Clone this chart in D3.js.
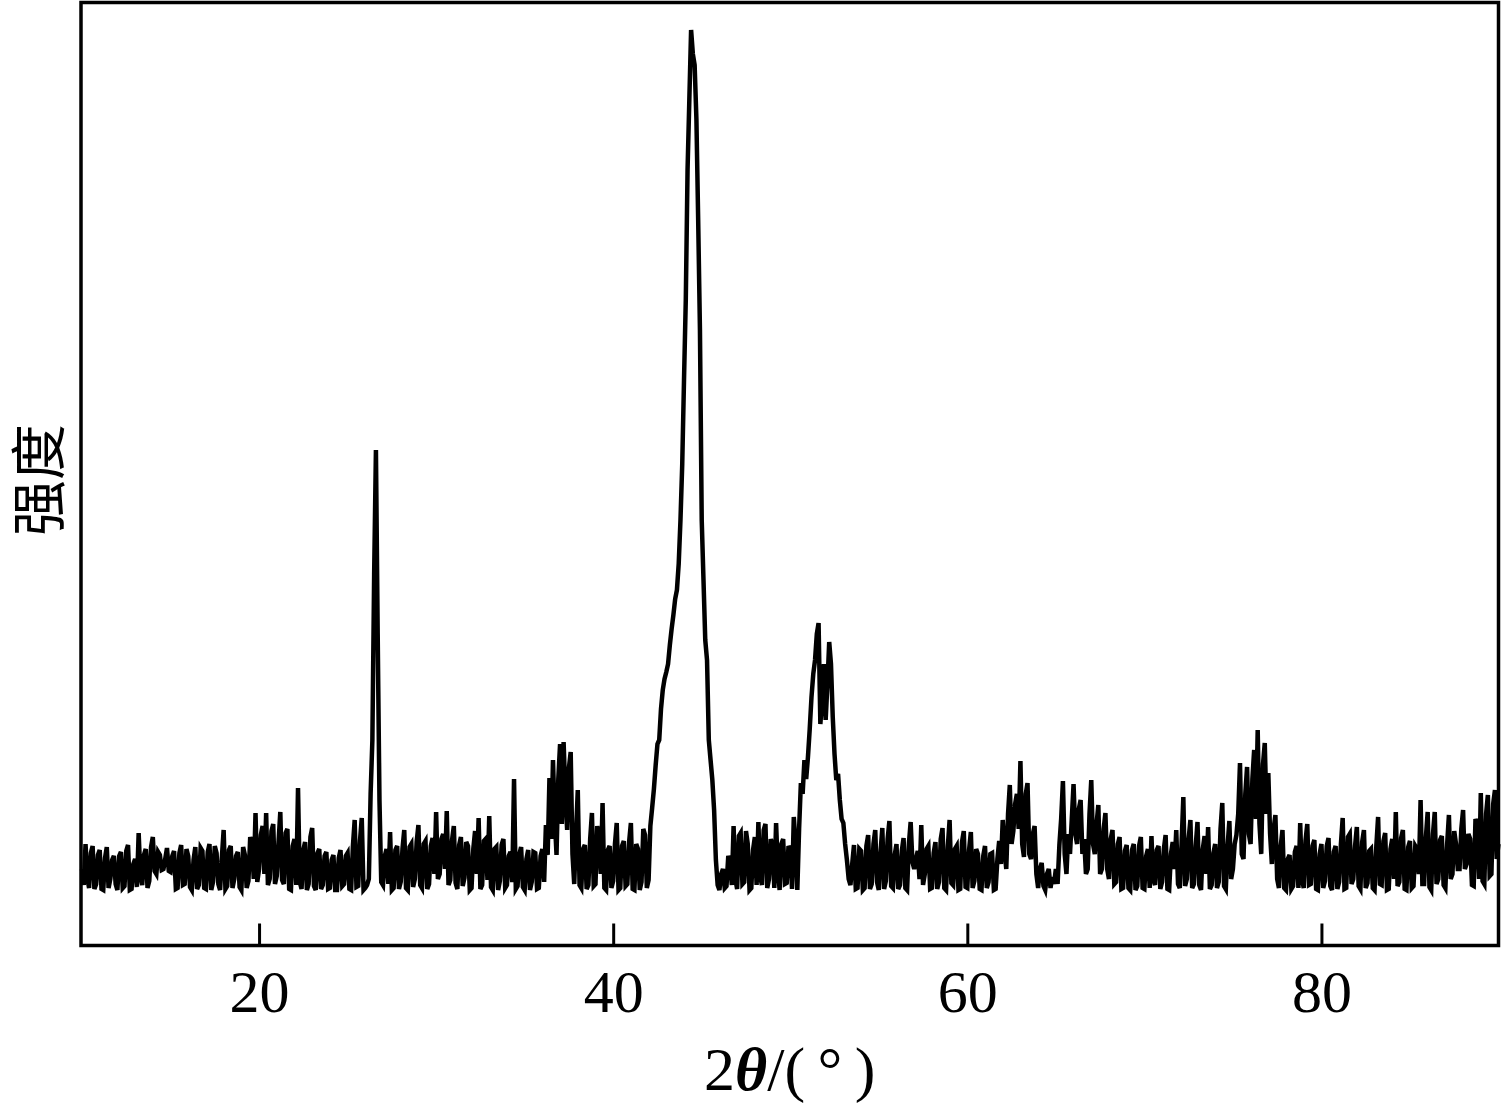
<!DOCTYPE html>
<meta charset="utf-8">
<style>
body {
  margin: 0;
  background: #fff;
}
.axis .domain {
  display: none;
}
</style>
<svg width="1502" height="1109"></svg>
<script src="https://d3js.org/d3.v7.min.js"></script>
<script>
// 2theta range and sampling step (degrees)
var thetaStart = 10,
    thetaEnd = 90,
    thetaStep = 0.1;

// intensity (a.u.), one value per 0.1 deg, one row per degree
var intensity = [
  150, 118, 200, 132, 112, 182, 196, 110, 120, 178,   // 10
  188, 110, 108, 172, 194, 112, 130, 168, 176, 120,   // 11
  108, 176, 184, 112, 116, 186, 198, 108, 110, 160,   // 12
  170, 114, 222, 136, 118, 178, 190, 112, 126, 194,   // 13
  214, 146, 140, 184, 178, 148, 150, 170, 192, 146,   // 14
  144, 176, 186, 110, 112, 182, 198, 118, 120, 190,   // 15
  176, 114, 108, 168, 194, 110, 118, 192, 186, 112,   // 16
  110, 184, 200, 108, 124, 196, 182, 120, 108, 174,   // 17
  228, 110, 116, 188, 196, 112, 130, 176, 184, 114,   // 18
  108, 194, 178, 112, 126, 214, 200, 130, 262, 124,   // 19
  150, 218, 236, 140, 262, 118, 130, 226, 240, 120,   // 20
  136, 204, 264, 128, 120, 222, 230, 110, 108, 196,   // 21
  210, 118, 312, 124, 110, 188, 204, 108, 120, 214,   // 22
  232, 116, 108, 182, 190, 110, 118, 176, 184, 110,   // 23
  112, 168, 178, 108, 108, 172, 188, 116, 120, 176,   // 24
  182, 110, 108, 196, 248, 114, 116, 206, 252, 108,   // 25
  112, 118, 130, 300, 408, 740, 988, 620, 288, 124,   // 26
  118, 176, 190, 120, 224, 108, 112, 188, 196, 110,   // 27
  124, 190, 228, 112, 108, 194, 200, 114, 130, 204,   // 28
  238, 118, 112, 200, 206, 110, 120, 196, 212, 140,   // 29
  264, 130, 140, 210, 220, 150, 266, 118, 128, 208,   // 30
  236, 122, 110, 198, 214, 116, 132, 204, 196, 108,   // 31
  112, 190, 226, 140, 252, 110, 118, 206, 210, 128,   // 32
  256, 114, 108, 190, 194, 108, 126, 198, 210, 112,   // 33
  118, 176, 184, 124, 330, 110, 116, 180, 194, 114,   // 34
  108, 170, 188, 108, 124, 184, 182, 110, 112, 176,   // 35
  190, 124, 238, 178, 332, 210, 368, 250, 178, 330,   // 36
  400, 240, 404, 300, 228, 352, 384, 180, 120, 220,   // 37
  308, 118, 112, 190, 198, 110, 118, 210, 262, 116,   // 38
  120, 236, 210, 140, 282, 112, 108, 188, 196, 112,   // 39
  126, 200, 242, 108, 112, 196, 206, 116, 120, 204,   // 40
  242, 110, 108, 200, 190, 108, 124, 230, 218, 112,   // 41
  128, 236, 272, 310, 358, 400, 408, 470, 508, 530,   // 42
  544, 560, 598, 630, 658, 690, 708, 760, 848, 960,   // 43
  1128, 1288, 1548, 1688, 1828, 1780, 1758, 1650, 1448, 1228, // 44
  848, 728, 608, 568, 408, 368, 328, 268, 168, 118,   // 45
  108, 140, 150, 112, 116, 176, 164, 118, 236, 130,   // 46
  110, 216, 222, 120, 124, 226, 200, 108, 112, 188,   // 47
  214, 118, 244, 136, 118, 228, 240, 112, 130, 210,   // 48
  196, 112, 242, 150, 108, 200, 210, 120, 122, 196,   // 49
  188, 110, 254, 200, 108, 230, 322, 300, 368, 330,   // 50
  374, 430, 494, 540, 568, 620, 642, 440, 488, 560,   // 51
  448, 520, 604, 560, 454, 380, 328, 340, 288, 250,   // 52
  242, 200, 168, 130, 118, 160, 198, 110, 112, 190,   // 53
  186, 108, 112, 196, 218, 110, 120, 200, 228, 124,   // 54
  108, 184, 232, 110, 126, 210, 246, 116, 112, 178,   // 55
  200, 110, 118, 186, 212, 112, 108, 200, 244, 164,   // 56
  150, 170, 186, 130, 238, 118, 140, 190, 196, 110,   // 57
  112, 182, 204, 110, 124, 210, 232, 112, 108, 196,   // 58
  248, 122, 118, 190, 196, 108, 110, 204, 226, 114,   // 59
  112, 188, 224, 112, 126, 190, 180, 110, 108, 176,   // 60
  196, 112, 124, 180, 182, 108, 110, 170, 206, 160,   // 61
  248, 190, 150, 260, 318, 200, 226, 280, 300, 230,   // 62
  366, 200, 174, 300, 322, 180, 170, 220, 236, 140,   // 63
  112, 150, 162, 116, 108, 140, 150, 112, 134, 120,   // 64
  150, 120, 198, 250, 326, 180, 140, 220, 180, 250,   // 65
  320, 220, 200, 270, 288, 180, 210, 140, 150, 260,   // 66
  328, 200, 180, 240, 278, 140, 150, 230, 262, 150,   // 67
  130, 210, 228, 120, 124, 200, 214, 110, 112, 186,   // 68
  198, 112, 108, 188, 200, 108, 116, 196, 214, 112,   // 69
  110, 176, 190, 112, 216, 130, 118, 188, 196, 110,   // 70
  124, 190, 218, 110, 108, 180, 204, 150, 228, 120,   // 71
  112, 200, 294, 116, 130, 210, 248, 112, 120, 196,   // 72
  244, 118, 108, 190, 216, 140, 234, 110, 118, 182,   // 73
  200, 112, 124, 230, 282, 116, 110, 196, 246, 130,   // 74
  150, 200, 218, 260, 362, 180, 170, 300, 354, 220,   // 75
  200, 330, 388, 250, 428, 240, 180, 360, 402, 260,   // 76
  342, 220, 160, 230, 258, 130, 112, 196, 228, 112,   // 77
  108, 170, 178, 110, 116, 184, 196, 112, 242, 130,   // 78
  112, 206, 240, 118, 120, 196, 208, 110, 108, 180,   // 79
  200, 112, 126, 196, 212, 116, 108, 184, 196, 110,   // 80
  124, 200, 252, 110, 112, 214, 220, 120, 130, 196,   // 81
  234, 116, 110, 204, 228, 112, 122, 186, 190, 112,   // 82
  108, 196, 254, 120, 118, 206, 222, 108, 110, 190,   // 83
  210, 130, 264, 116, 124, 212, 228, 110, 108, 194,   // 84
  206, 112, 116, 196, 190, 140, 288, 120, 120, 214,   // 85
  264, 114, 108, 220, 264, 120, 130, 208, 216, 118,   // 86
  112, 200, 258, 130, 140, 226, 200, 150, 150, 230,   // 87
  268, 150, 160, 220, 210, 118, 116, 250, 240, 130,   // 88
  302, 126, 120, 260, 298, 136, 140, 280, 308, 170,   // 89
  200                                                 // 90
];

// x axis ticks
var xTicks = [20, 40, 60, 80];

var yLabel = "强度";

// plot frame edges (px)
var frameL = 81, frameR = 1498.5, frameT = 2.5, frameB = 945.5;

var svg = d3.select("svg");

var x = d3.scaleLinear()
    .domain([thetaStart, thetaEnd])
    .range([82, 1498.5]);

var y = d3.scaleLinear()
    .domain([0, 1888])
    .range([944, 0]);

var data = intensity.map(function(v, i) {
  return { t: thetaStart + i * thetaStep, v: v };
});

var serif = "'Liberation Serif', 'Times New Roman', serif";

// the pattern
var line = d3.line()
    .x(function(d) { return x(d.t); })
    .y(function(d) { return y(d.v); });

svg.append("path")
    .datum(data)
    .attr("fill", "none")
    .attr("stroke", "#000")
    .attr("stroke-width", 4.5)
    .attr("d", line);

// ticks point inwards from the bottom edge
svg.append("g")
    .attr("class", "axis")
    .attr("transform", "translate(0," + frameB + ")")
    .call(d3.axisBottom(x)
      .tickValues(xTicks)
      .tickSizeInner(-22)
      .tickSizeOuter(0)
      .tickPadding(24)
      .tickFormat(d3.format("d")))
    .call(function(g) {
      g.selectAll(".tick line").attr("stroke", "#000").attr("stroke-width", 3);
      g.selectAll(".tick text")
        .attr("fill", "#000")
        .attr("font-family", serif)
        .attr("font-size", 60);
    });

// frame
svg.append("rect")
    .attr("x", frameL)
    .attr("y", frameT)
    .attr("width", frameR - frameL)
    .attr("height", frameB - frameT)
    .attr("fill", "none")
    .attr("stroke", "#000")
    .attr("stroke-width", 3.5);

// x label: 2θ/(°)
var xl = svg.append("text")
    .attr("x", (frameL + frameR) / 2)
    .attr("y", 1090)
    .attr("text-anchor", "middle")
    .attr("font-family", serif)
    .attr("font-size", 62)
    .attr("fill", "#000");
xl.append("tspan").text("2");
xl.append("tspan").attr("font-style", "italic").attr("font-weight", "bold").text("θ");
xl.append("tspan").text("/(\u2009°\u2009)");

// y label
svg.append("text")
    .attr("transform", "translate(34,480) rotate(-90)")
    .attr("text-anchor", "middle")
    .attr("dominant-baseline", "central")
    .attr("font-family", "'Noto Sans CJK SC', sans-serif")
    .attr("font-size", 56)
    .attr("fill", "#000")
    .text(yLabel);
</script>
